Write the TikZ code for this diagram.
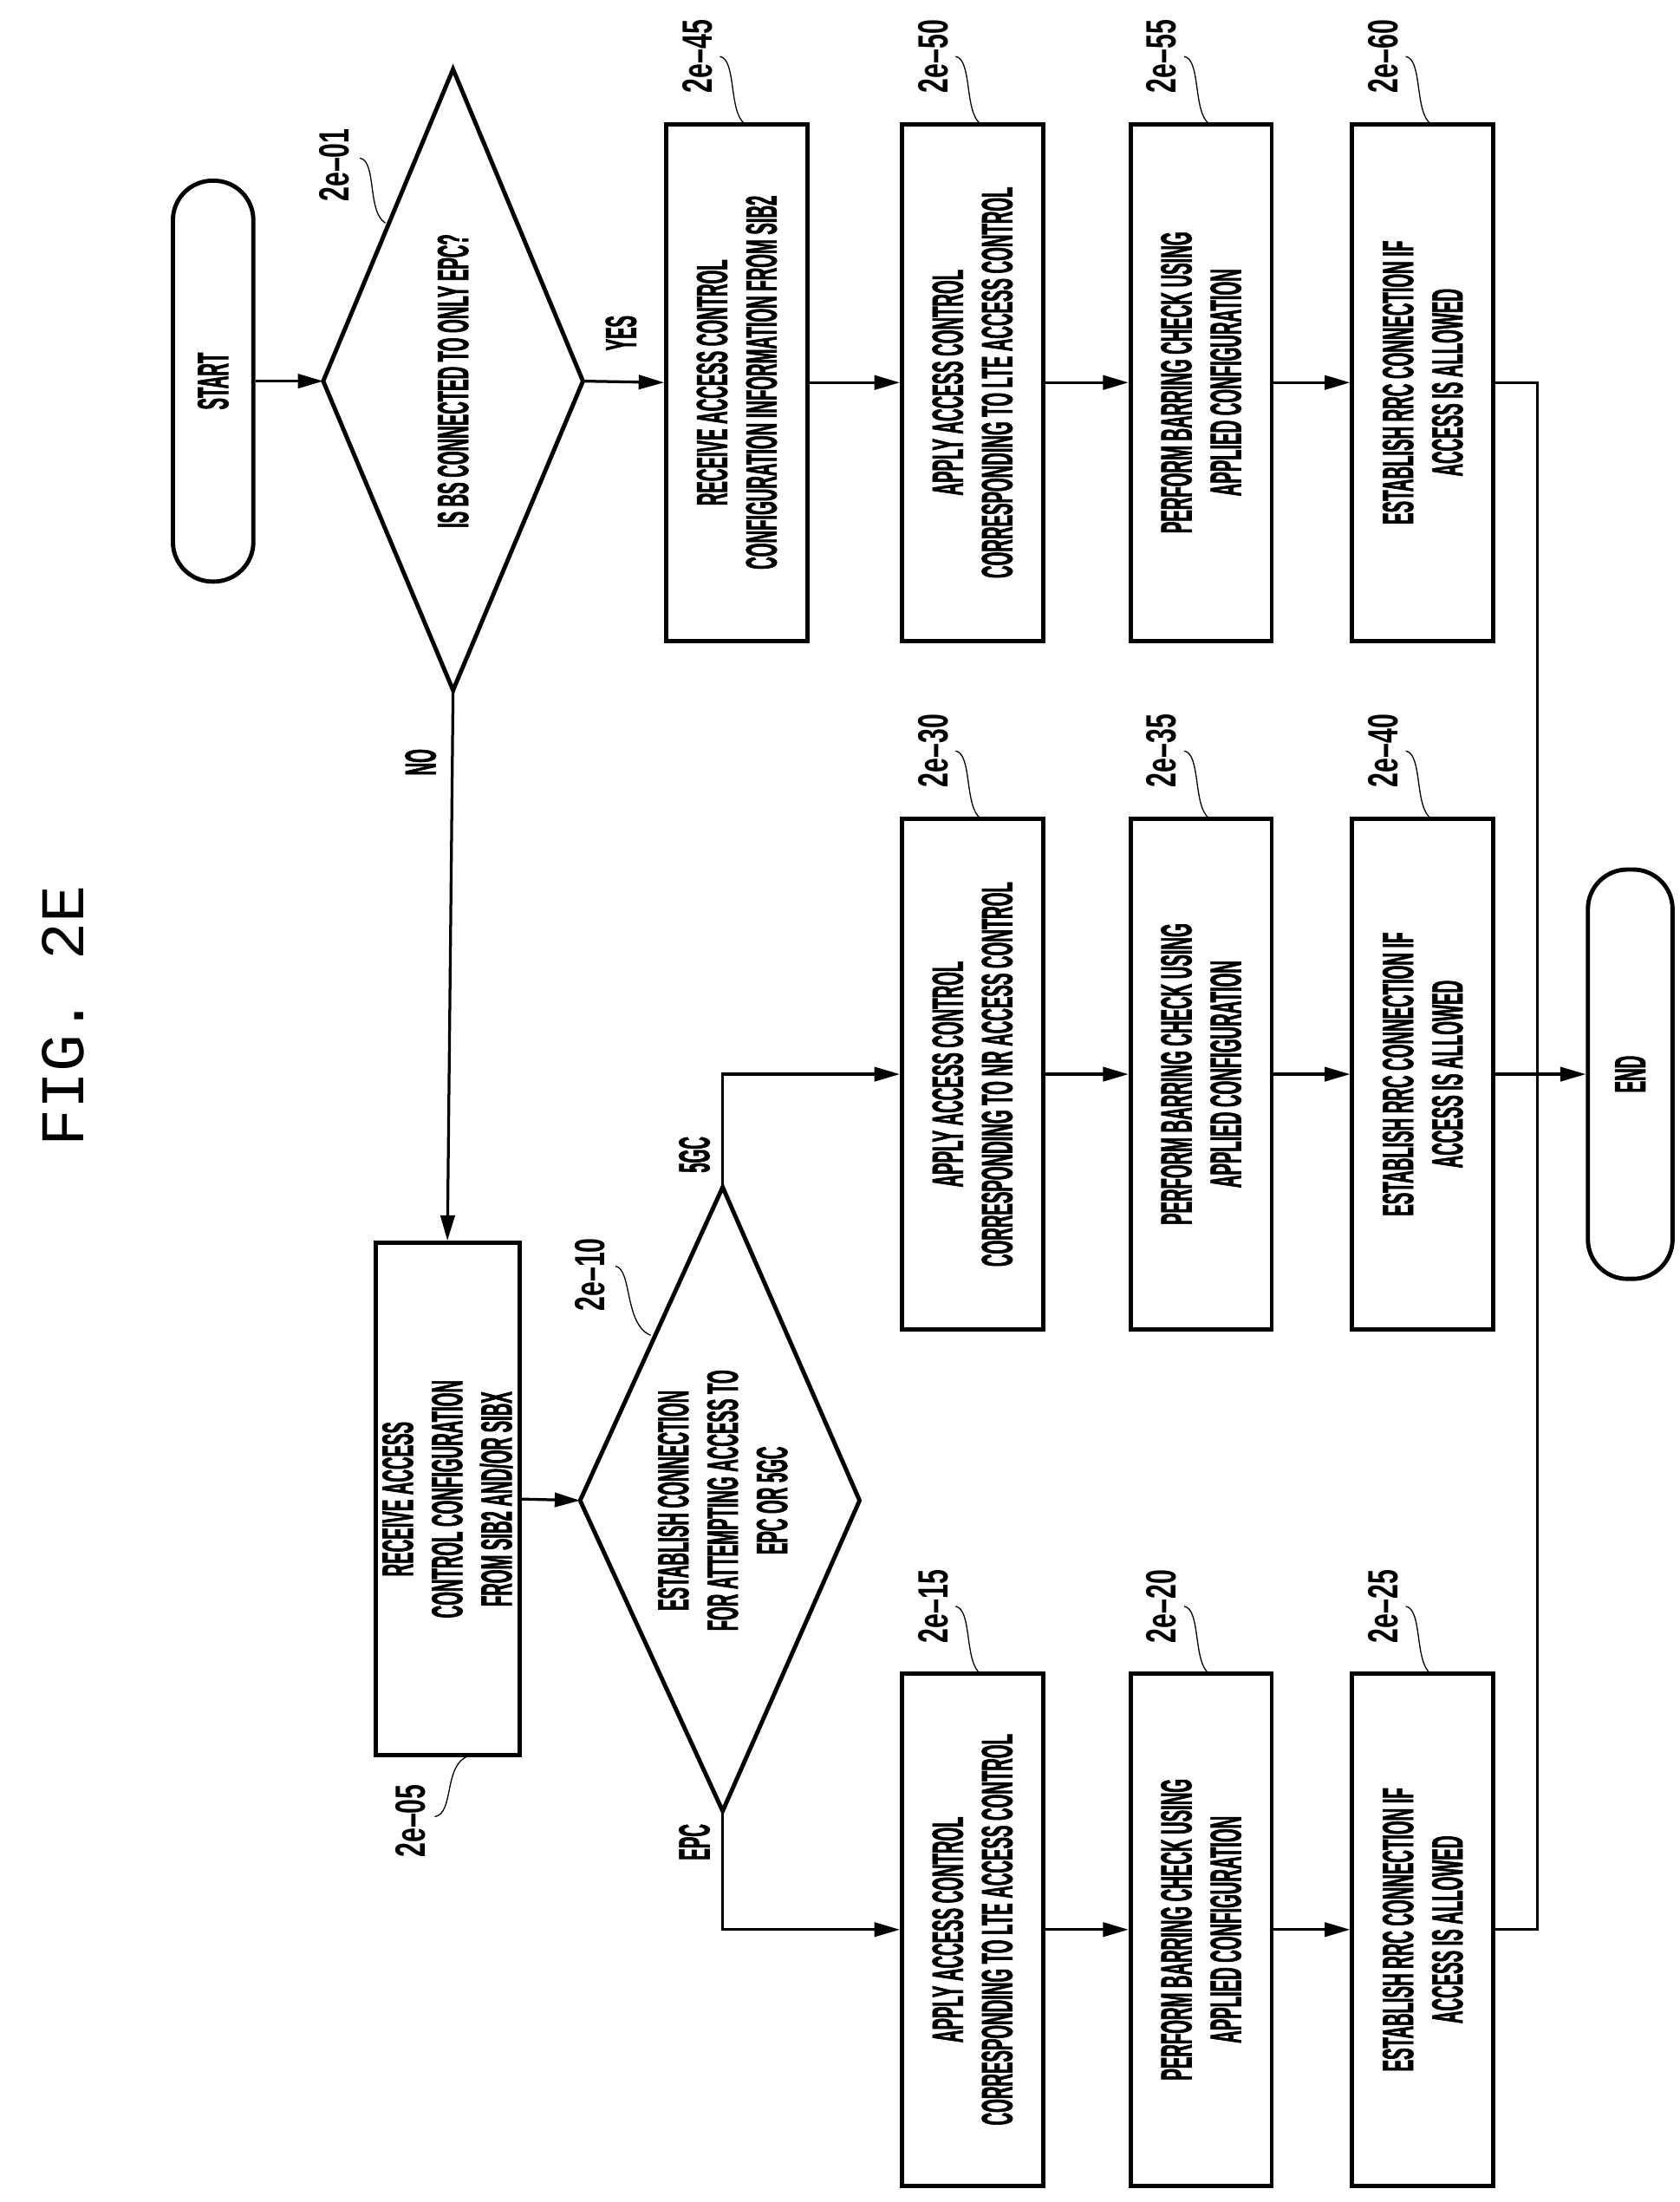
\documentclass[tikz,border=0pt]{standalone}
\usepackage{fontspec}
\usetikzlibrary{arrows.meta,calc}
\newfontfamily\cond[FakeStretch=0.4,FakeBold=1.2]{Liberation Sans Bold}
\newfontfamily\labf[FakeStretch=0.62]{Liberation Sans Bold}
\newfontfamily\titf{Liberation Mono}
\begin{document}
\begin{tikzpicture}[x=0.5pt,y=-0.5pt,
  box/.style={draw,line width=1.5pt,rotate=90,align=center,inner sep=0pt,font=\cond\fontsize{15.5}{17.5}\selectfont},
  term/.style={draw,line width=1.5pt,rotate=90,rounded corners=14pt,inner sep=0pt,font=\cond\fontsize{15.5}{17.5}\selectfont},
  dtext/.style={rotate=90,align=center,font=\cond\fontsize{15.5}{17.5}\selectfont},
  lab/.style={rotate=90,font=\labf\fontsize{15}{17}\selectfont},
  blab/.style={rotate=90,font=\cond\fontsize{15.5}{17.5}\selectfont},
  arr/.style={line width=1pt,-{Triangle[length=9pt,width=5pt]}},
  ln/.style={line width=1pt},
  lead/.style={line width=0.4pt}]
\useasboundingbox (0,0) rectangle (1190,1560);
\node[rotate=90,font=\titf\fontsize{22}{24}\selectfont] (title) at (45,720) {FIG. 2E};
% terminals
\node[term,minimum width=142pt,minimum height=28.5pt] (start) at (151,270) {START};
\node[term,minimum width=145pt,minimum height=30pt] (endn) at (1155,761) {END};
% diamond 1
\coordinate (d1w) at (229,270); \coordinate (d1e) at (413,270);
\coordinate (d1n) at (321,49); \coordinate (d1s) at (321,489);
\draw[line width=1.5pt] (d1w)--(d1n)--(d1e)--(d1s)--cycle;
\node[dtext] (d1t) at (321,270) {IS BS CONNECTED TO ONLY EPC?};
% diamond 2
\coordinate (d2w) at (411,1063); \coordinate (d2e) at (609,1063);
\coordinate (d2n) at (512,841); \coordinate (d2s) at (512,1283);
\draw[line width=1.5pt] (d2w)--(d2n)--(d2e)--(d2s)--cycle;
\node[dtext] (d2t) at (512,1063) {ESTABLISH CONNECTION\\FOR ATTEMPTING ACCESS TO\\EPC OR 5GC};
% boxes
\node[box,minimum width=181.5pt,minimum height=51pt] (b05) at (317,1062) {RECEIVE ACCESS\\CONTROL CONFIGURATION\\FROM SIB2 AND/OR SIBX};
\node[box,minimum width=183pt,minimum height=50pt] (b45) at (522,271) {RECEIVE ACCESS CONTROL\\CONFIGURATION INFORMATION FROM SIB2};
\node[box,minimum width=183pt,minimum height=50pt] (b50) at (689,271) {APPLY ACCESS CONTROL\\CORRESPONDING TO LTE ACCESS CONTROL};
\node[box,minimum width=183pt,minimum height=50pt] (b55) at (851,271) {PERFORM BARRING CHECK USING\\APPLIED CONFIGURATION};
\node[box,minimum width=183pt,minimum height=50pt] (b60) at (1008,271) {ESTABLISH RRC CONNECTION IF\\ACCESS IS ALLOWED};
\node[box,minimum width=181pt,minimum height=50pt] (b30) at (689,761) {APPLY ACCESS CONTROL\\CORRESPONDING TO NR ACCESS CONTROL};
\node[box,minimum width=181pt,minimum height=50pt] (b35) at (851,761) {PERFORM BARRING CHECK USING\\APPLIED CONFIGURATION};
\node[box,minimum width=181pt,minimum height=50pt] (b40) at (1008,761) {ESTABLISH RRC CONNECTION IF\\ACCESS IS ALLOWED};
\node[box,minimum width=181.5pt,minimum height=50pt] (b15) at (689,1367) {APPLY ACCESS CONTROL\\CORRESPONDING TO LTE ACCESS CONTROL};
\node[box,minimum width=181.5pt,minimum height=50pt] (b20) at (851,1367) {PERFORM BARRING CHECK USING\\APPLIED CONFIGURATION};
\node[box,minimum width=181.5pt,minimum height=50pt] (b25) at (1008,1367) {ESTABLISH RRC CONNECTION IF\\ACCESS IS ALLOWED};
% connectors
\draw[arr] (start.south) -- (d1w);
\draw[arr] (d1e) -- (b45.north);
\draw[arr] (b45.south) -- (b50.north);
\draw[arr] (b50.south) -- (b55.north);
\draw[arr] (b55.south) -- (b60.north);
\draw[arr] (d1s) -- (b05.east);
\draw[arr] (b05.south) -- (d2w);
\draw[arr] (d2n) |- (b30.north);
\draw[arr] (d2s) |- (b15.north);
\draw[arr] (b30.south) -- (b35.north);
\draw[arr] (b35.south) -- (b40.north);
\draw[arr] (b15.south) -- (b20.north);
\draw[arr] (b20.south) -- (b25.north);
\coordinate (j) at (1089,761);
\draw[ln] (b60.south) -| (j);
\draw[ln] (b25.south) -| (j);
\draw[arr] (b40.south) -- (endn.north);
% branch labels
\node[blab] (yes) at (440,236) {YES};
\node[blab] (no) at (298,540) {NO};
\node[blab] (l5gc) at (492,818) {5GC};
\node[blab] (lepc) at (492,1305) {EPC};
% reference labels
\newcommand\boxref[3]{%
  \node[lab] (r#3) at ({#1+22},{#2-48}) {2e–#3};
  \draw[lead] ({#1+38},{#2-48}) .. controls ({#1+50},{#2-46}) and ({#1+44},{#2-8}) .. ({#1+56},{#2});}
\boxref{472}{88}{45}
\boxref{639}{88}{50}
\boxref{801}{88}{55}
\boxref{958}{88}{60}
\boxref{639}{580}{30}
\boxref{801}{580}{35}
\boxref{958}{580}{40}
\boxref{639}{1186}{15}
\boxref{801}{1186}{20}
\boxref{958}{1186}{25}
\node[lab] (r01) at (237,117) {2e–01};
\draw[lead] (255,112) .. controls (267,114) and (260,150) .. (273,158);
\node[lab] (r10) at (418,903) {2e–10};
\draw[lead] (436,897) .. controls (448,899) and (442,938) .. (461,946);
\node[lab] (r05) at (291,1290) {2e–05};
\draw[lead] (308,1287) .. controls (322,1285) and (314,1250) .. (332,1244);
\end{tikzpicture}
\end{document}
